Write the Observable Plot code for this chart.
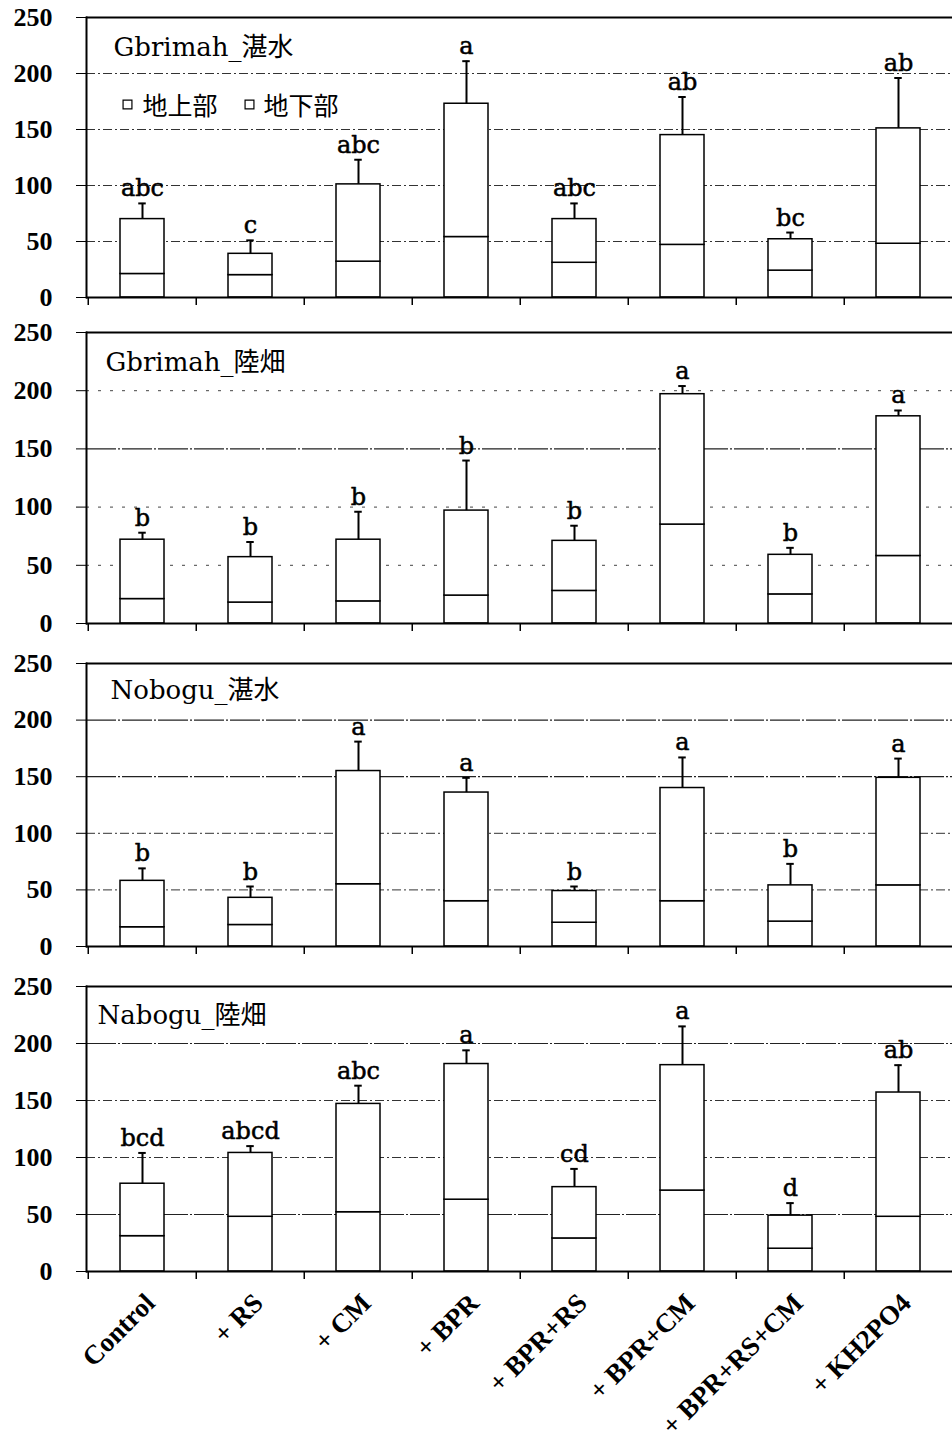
<!DOCTYPE html>
<html><head><meta charset="utf-8">
<script src="https://cdn.jsdelivr.net/npm/d3@7"></script>
<script src="https://cdn.jsdelivr.net/npm/@observablehq/plot@0.6"></script>
<style>
html,body{margin:0;padding:0;background:#fff;overflow:hidden;width:952px;height:1439px}
#chart svg{display:block;max-width:none;overflow:visible}
</style></head><body><div id="chart"></div>
<script>
// ---------- data ----------
const categories = ["Control", "+ RS", "+ CM", "+ BPR", "+ BPR+RS", "+ BPR+CM", "+ BPR+RS+CM", "+ KH2PO4"];
const parts = ["地下部", "地上部"];           // stacking order, bottom → top
const legendLabels = ["地上部", "地下部"];
const panelTitles = ["Gbrimah_湛水", "Gbrimah_陸畑", "Nobogu_湛水", "Nabogu_陸畑"];
const yTicks = [0, 50, 100, 150, 200, 250];
const gridTicks = [50, 100, 150, 200];

// Gbrimah_湛水
const total1  = [70, 39, 101, 173, 70, 145, 52, 151];
const below1  = [21, 20, 32, 54, 31, 47, 24, 48];
const sd1     = [14, 12, 22, 38, 14, 34, 6, 45];
const letters1 = ["abc", "c", "abc", "a", "abc", "ab", "bc", "ab"];
// Gbrimah_陸畑
const total2  = [72, 57, 72, 97, 71, 197, 59, 178];
const below2  = [21, 18, 19, 24, 28, 85, 25, 58];
const sd2     = [6, 13, 24, 43, 13, 7, 6, 5];
const letters2 = ["b", "b", "b", "b", "b", "a", "b", "a"];
// Nobogu_湛水
const total3  = [58, 43, 155, 136, 49, 140, 54, 149];
const below3  = [17, 19, 55, 40, 21, 40, 22, 54];
const sd3     = [11, 10, 26, 13, 4, 27, 19, 17];
const letters3 = ["b", "b", "a", "a", "b", "a", "b", "a"];
// Nabogu_陸畑
const total4  = [77, 104, 147, 182, 74, 181, 49, 157];
const below4  = [31, 48, 52, 63, 29, 71, 20, 48];
const sd4     = [27, 6, 16, 12, 16, 34, 11, 24];
const letters4 = ["bcd", "abcd", "abc", "a", "cd", "a", "d", "ab"];

// ---------- layout ----------
const W = 954, ML = 86;
const step = (W - ML) / categories.length;
const layout = [
  {height: 307, marginTop: 17, marginBottom: 10, tdx: 27, tdy: 20, solid: [], sparse: []},
  {height: 326, marginTop: 25, marginBottom: 10, tdx: 19, tdy: 20, solid: [150], sparse: [50, 100, 200]},
  {height: 323, marginTop: 30, marginBottom: 10, tdx: 24, tdy: 17, solid: [150, 200], sparse: []},
  {height: 483, marginTop: 30, marginBottom: 168, tdx: 11, tdy: 19, solid: [50, 200], sparse: []}
];
const panels = [
  {title: panelTitles[0], total: total1, below: below1, sd: sd1, letters: letters1},
  {title: panelTitles[1], total: total2, below: below2, sd: sd2, letters: letters2},
  {title: panelTitles[2], total: total3, below: below3, sd: sd3, letters: letters3},
  {title: panelTitles[3], total: total4, below: below4, sd: sd4, letters: letters4}
];
const serif = "'DejaVu Serif', 'Noto Sans CJK JP', serif";
const cjk = "'Noto Sans CJK JP', sans-serif";
const tickFont = "'Liberation Serif', serif";

const root = document.getElementById("chart");
panels.forEach((p, i) => {
  const L = layout[i];
  const last = i === panels.length - 1;
  const table = [];
  categories.forEach((c, j) => table.push({cat: c, part: parts[0], v: p.below[j]}));
  categories.forEach((c, j) => table.push({cat: c, part: parts[1], v: p.total[j] - p.below[j]}));
  const errs = categories.map((c, j) => ({cat: c, y1: p.total[j], y2: p.total[j] + p.sd[j], letter: p.letters[j]}));
  const dashGrid = gridTicks.filter(t => !L.solid.includes(t) && !L.sparse.includes(t));

  const marks = [
    Plot.gridY(dashGrid, {stroke: "#333", strokeOpacity: 1, strokeWidth: 1, strokeDasharray: "9,3,2,3"}),
    Plot.gridY(L.sparse, {stroke: "#444", strokeOpacity: 1, strokeWidth: 1, strokeDasharray: "3,9"}),
    Plot.gridY(L.solid, {stroke: "#222", strokeOpacity: 1, strokeWidth: 1.2, strokeDasharray: "30,2,2,2"}),
    Plot.ruleY([250], {stroke: "black", strokeWidth: 2}),
    Plot.barY(table, {x: "cat", y: "v", z: "part", fill: "white", stroke: "black", strokeWidth: 1.5, insetLeft: 32, insetRight: 32}),
    Plot.ruleX(errs, {x: "cat", y1: "y1", y2: "y2", stroke: "black", strokeWidth: 2}),
    Plot.tickY(errs, {x: "cat", y: "y2", stroke: "black", strokeWidth: 2, insetLeft: step / 2 - 4, insetRight: step / 2 - 4}),
    Plot.text(errs, {x: "cat", y: "y2", text: "letter", lineAnchor: "bottom", dy: -7, fontSize: 24, fontFamily: serif, fill: "black", stroke: "black", strokeWidth: 0.5}),
    Plot.ruleY([0], {stroke: "black", strokeWidth: 2}),
    Plot.ruleX(categories, {x: d => d, dx: -step / 2, y1: 0, y2: 0, insetBottom: -8, stroke: "black", strokeWidth: 1.5}),
    Plot.frame({anchor: "left", stroke: "black", strokeWidth: 2}),
    Plot.axisY({ticks: yTicks, tickSize: 10, tickPadding: 24, fontSize: 26, fontWeight: "bold", fontFamily: tickFont, tickFormat: d => d, label: null, stroke: "black"}),
    Plot.text([p.title], {frameAnchor: "top-left", dx: L.tdx, dy: L.tdy, text: d => d, fontSize: 26, fontFamily: serif, lineAnchor: "top", fill: "black"})
  ];
  if (i === 0) {
    marks.push(
      Plot.dot([legendLabels[0]], {frameAnchor: "top-left", dx: 41, dy: 87, symbol: "square", r: 5, fill: "white", stroke: "black", strokeWidth: 1.2}),
      Plot.text([legendLabels[0]], {frameAnchor: "top-left", dx: 56, dy: 89, text: d => d, fontSize: 25, fontFamily: cjk, textAnchor: "start", lineAnchor: "middle", fill: "black"}),
      Plot.dot([legendLabels[1]], {frameAnchor: "top-left", dx: 163, dy: 87, symbol: "square", r: 5, fill: "white", stroke: "black", strokeWidth: 1.2}),
      Plot.text([legendLabels[1]], {frameAnchor: "top-left", dx: 177, dy: 89, text: d => d, fontSize: 25, fontFamily: cjk, textAnchor: "start", lineAnchor: "middle", fill: "black"})
    );
  }
  if (last) {
    marks.push(Plot.axisX({tickRotate: -45, tickSize: 0, tickPadding: 27, dx: 8, fontSize: 27, fontWeight: "bold", fontFamily: tickFont, label: null}));
  }
  const chart = Plot.plot({
    width: W,
    height: L.height,
    marginLeft: ML,
    marginRight: 0,
    marginTop: L.marginTop,
    marginBottom: L.marginBottom,
    x: {type: "band", domain: categories, padding: 0, axis: last ? undefined : null},
    y: {domain: [0, 250]},
    style: {background: "white", overflow: "visible", maxWidth: "none", color: "black"},
    marks
  });
  root.appendChild(chart);
});
</script>
</body></html>
